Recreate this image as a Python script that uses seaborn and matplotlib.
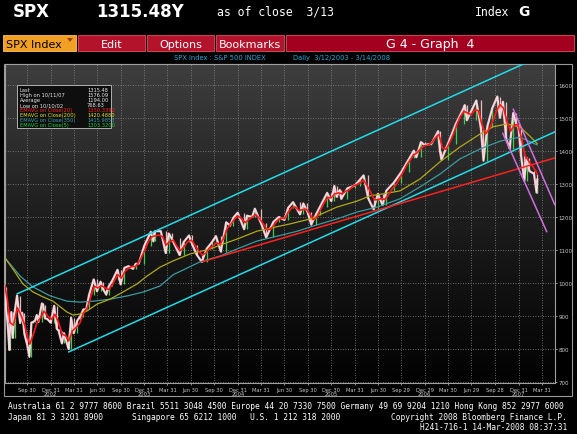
import numpy as np
import pandas as pd
import matplotlib
matplotlib.use("Agg")
import matplotlib.pyplot as plt
import matplotlib.transforms as mtransforms
from matplotlib.colors import LinearSegmentedColormap
from matplotlib.patches import Rectangle, Polygon
import seaborn as sns

# ---------------- data ----------------
price_dates = [
    "2002-07-05", "2002-07-10", "2002-07-16", "2002-07-23", "2002-07-24", "2002-07-31", "2002-08-05",
    "2002-08-14", "2002-08-22", "2002-09-03", "2002-09-11", "2002-09-20", "2002-09-30", "2002-10-09",
    "2002-10-17", "2002-10-24", "2002-10-31", "2002-11-07", "2002-11-13", "2002-11-27", "2002-12-02",
    "2002-12-09", "2002-12-18", "2002-12-31", "2003-01-14", "2003-01-24", "2003-01-31", "2003-02-13",
    "2003-02-21", "2003-03-11", "2003-03-21", "2003-03-31", "2003-04-14", "2003-04-25", "2003-05-08",
    "2003-05-19", "2003-05-30", "2003-06-17", "2003-06-30", "2003-07-14", "2003-07-24", "2003-08-05",
    "2003-08-15", "2003-08-29", "2003-09-18", "2003-09-30", "2003-10-15", "2003-10-31", "2003-11-17",
    "2003-11-28", "2003-12-10", "2003-12-31", "2004-01-26", "2004-02-05", "2004-02-11", "2004-03-05",
    "2004-03-24", "2004-04-05", "2004-04-16", "2004-05-17", "2004-06-02", "2004-06-23", "2004-07-06",
    "2004-07-23", "2004-08-12", "2004-08-31", "2004-09-20", "2004-10-06", "2004-10-25", "2004-11-15",
    "2004-11-30", "2004-12-13", "2004-12-30", "2005-01-24", "2005-02-04", "2005-02-24", "2005-03-07",
    "2005-03-31", "2005-04-20", "2005-05-18", "2005-06-09", "2005-06-30", "2005-07-15", "2005-08-03",
    "2005-08-30", "2005-09-12", "2005-09-28", "2005-10-13", "2005-10-31", "2005-11-16", "2005-12-14",
    "2005-12-30", "2006-01-11", "2006-01-20", "2006-02-01", "2006-02-07", "2006-03-03", "2006-03-31",
    "2006-04-20", "2006-05-05", "2006-05-23", "2006-06-13", "2006-06-30", "2006-07-18", "2006-08-02",
    "2006-08-31", "2006-09-29", "2006-10-31", "2006-11-17", "2006-11-27", "2006-12-15", "2006-12-29",
    "2007-01-25", "2007-02-20", "2007-02-27", "2007-03-05", "2007-03-30", "2007-04-30", "2007-05-31",
    "2007-06-04", "2007-06-12", "2007-07-19", "2007-08-06", "2007-08-16", "2007-08-31", "2007-09-19",
    "2007-10-09", "2007-10-19", "2007-10-31", "2007-11-12", "2007-11-26", "2007-12-10", "2007-12-21",
    "2007-12-31", "2008-01-09", "2008-01-22", "2008-01-31", "2008-02-11", "2008-02-29", "2008-03-10",
    "2008-03-13",
]
price_values = [
    989, 920, 881, 797, 843, 912, 834,
    919, 962, 879, 910, 845, 815, 777,
    880, 882, 886, 903, 882, 938, 934,
    893, 891, 880, 931, 861, 856, 817,
    848, 800, 895, 848, 886, 898, 920,
    920, 964, 1011, 975, 1004, 981, 965,
    990, 1008, 1040, 996, 1046, 1051, 1043,
    1058, 1059, 1112, 1155, 1126, 1157, 1157,
    1091, 1150, 1135, 1085, 1124, 1144, 1116,
    1086, 1064, 1104, 1123, 1142, 1095, 1184,
    1174, 1198, 1213, 1163, 1204, 1200, 1225,
    1181, 1138, 1185, 1200, 1191, 1228, 1245,
    1208, 1241, 1216, 1177, 1207, 1231, 1273,
    1248, 1294, 1261, 1282, 1255, 1287, 1295,
    1312, 1326, 1257, 1223, 1270, 1236, 1280,
    1304, 1336, 1378, 1401, 1381, 1427, 1418,
    1422, 1460, 1400, 1374, 1421, 1482, 1531,
    1539, 1493, 1553, 1467, 1371, 1474, 1529,
    1565, 1501, 1549, 1439, 1407, 1515, 1484,
    1468, 1390, 1310, 1379, 1339, 1331, 1274,
    1315,
]

ema20_dates = [
    "2002-07-05", "2002-07-15", "2002-07-26", "2002-08-08", "2002-08-23", "2002-09-05", "2002-09-20",
    "2002-10-04", "2002-10-11", "2002-10-25", "2002-11-08", "2002-11-22", "2002-12-05", "2002-12-20",
    "2003-01-03", "2003-01-17", "2003-01-31", "2003-02-14", "2003-02-28", "2003-03-12", "2003-03-26",
    "2003-04-09", "2003-04-25", "2003-05-09", "2003-05-23", "2003-06-06", "2003-06-20", "2003-07-03",
    "2003-07-18", "2003-08-01", "2003-08-15", "2003-08-29", "2003-09-19", "2003-10-03", "2003-10-17",
    "2003-10-31", "2003-11-14", "2003-11-28", "2003-12-12", "2003-12-31", "2004-01-16", "2004-01-30",
    "2004-02-13", "2004-02-27", "2004-03-12", "2004-03-26", "2004-04-08", "2004-04-23", "2004-05-07",
    "2004-05-21", "2004-06-04", "2004-06-18", "2004-07-02", "2004-07-16", "2004-07-30", "2004-08-13",
    "2004-08-27", "2004-09-10", "2004-09-24", "2004-10-08", "2004-10-22", "2004-11-05", "2004-11-19",
    "2004-12-03", "2004-12-17", "2004-12-31", "2005-01-14", "2005-01-28", "2005-02-11", "2005-02-25",
    "2005-03-11", "2005-03-25", "2005-04-08", "2005-04-22", "2005-05-06", "2005-05-20", "2005-06-03",
    "2005-06-17", "2005-07-01", "2005-07-15", "2005-07-29", "2005-08-12", "2005-08-26", "2005-09-09",
    "2005-09-23", "2005-10-07", "2005-10-21", "2005-11-04", "2005-11-18", "2005-12-02", "2005-12-16",
    "2005-12-30", "2006-01-13", "2006-01-27", "2006-02-10", "2006-02-24", "2006-03-10", "2006-03-24",
    "2006-04-07", "2006-04-21", "2006-05-05", "2006-05-19", "2006-06-02", "2006-06-16", "2006-06-30",
    "2006-07-14", "2006-07-28", "2006-08-11", "2006-08-25", "2006-09-08", "2006-09-22", "2006-10-06",
    "2006-10-20", "2006-11-03", "2006-11-17", "2006-12-01", "2006-12-15", "2006-12-29", "2007-01-12",
    "2007-01-26", "2007-02-09", "2007-02-23", "2007-03-09", "2007-03-23", "2007-04-06", "2007-04-20",
    "2007-05-04", "2007-05-18", "2007-06-01", "2007-06-15", "2007-06-29", "2007-07-13", "2007-07-27",
    "2007-08-10", "2007-08-24", "2007-09-07", "2007-09-21", "2007-10-05", "2007-10-19", "2007-11-02",
    "2007-11-16", "2007-11-30", "2007-12-14", "2007-12-28", "2008-01-11", "2008-01-25", "2008-02-08",
    "2008-02-22", "2008-03-07", "2008-03-13",
]
ema20_values = [
    995, 950, 880, 872, 925, 905, 875,
    830, 815, 845, 880, 895, 915, 900,
    890, 905, 880, 845, 840, 825, 855,
    865, 880, 910, 925, 960, 990, 985,
    992, 985, 980, 995, 1025, 1015, 1035,
    1045, 1050, 1050, 1065, 1095, 1125, 1140,
    1143, 1145, 1140, 1115, 1125, 1130, 1110,
    1098, 1110, 1125, 1130, 1115, 1098, 1085,
    1090, 1105, 1112, 1122, 1117, 1135, 1165,
    1178, 1193, 1203, 1195, 1183, 1192, 1200,
    1207, 1195, 1180, 1163, 1162, 1175, 1189,
    1197, 1195, 1215, 1228, 1230, 1220, 1222,
    1224, 1210, 1192, 1200, 1222, 1243, 1259,
    1258, 1270, 1273, 1270, 1278, 1282, 1293,
    1298, 1303, 1312, 1295, 1275, 1252, 1252,
    1256, 1253, 1268, 1286, 1297, 1315, 1336,
    1357, 1373, 1388, 1395, 1408, 1416, 1418,
    1425, 1440, 1450, 1410, 1405, 1425, 1450,
    1480, 1505, 1520, 1515, 1510, 1525, 1522,
    1480, 1452, 1465, 1490, 1520, 1540, 1530,
    1488, 1460, 1478, 1480, 1440, 1385, 1370,
    1355, 1340, 1330,
]

ema200_dates = [
    "2002-07-06", "2002-08-06", "2002-09-14", "2002-10-23", "2002-12-01", "2003-01-09", "2003-03-05",
    "2003-03-28", "2003-04-25", "2003-05-22", "2003-06-30", "2003-08-20", "2003-10-10", "2003-12-03",
    "2004-01-11", "2004-03-02", "2004-04-22", "2004-06-27", "2004-09-13", "2004-11-03", "2004-12-27",
    "2005-03-15", "2005-05-05", "2005-07-22", "2005-10-08", "2005-11-04", "2006-01-21", "2006-04-09",
    "2006-05-30", "2006-07-20", "2006-09-24", "2006-12-11", "2007-02-27", "2007-05-16", "2007-08-02",
    "2007-09-22", "2007-11-15", "2008-01-05", "2008-02-13", "2008-03-13",
]
ema200_values = [
    1076, 1042, 997, 973, 958, 945, 912,
    903, 906, 915, 936, 951, 973, 997,
    1021, 1048, 1067, 1088, 1103, 1118, 1133,
    1157, 1166, 1179, 1194, 1203, 1230, 1248,
    1264, 1270, 1279, 1315, 1367, 1412, 1451,
    1473, 1482, 1473, 1445, 1422,
]

ema350_dates = [
    "2002-07-06", "2002-09-03", "2002-10-23", "2002-12-29", "2003-03-05", "2003-04-25", "2003-06-16",
    "2003-08-20", "2003-10-27", "2003-12-29", "2004-03-02", "2004-04-22", "2004-08-05", "2004-10-23",
    "2004-12-27", "2005-03-15", "2005-06-02", "2005-08-20", "2005-10-22", "2006-01-21", "2006-04-09",
    "2006-06-27", "2006-09-24", "2006-12-11", "2007-02-27", "2007-05-16", "2007-08-02", "2007-10-21",
    "2008-01-05", "2008-03-13",
]
ema350_values = [
    1076, 1021, 988, 961, 945, 942, 945,
    951, 961, 973, 991, 1025, 1064, 1082,
    1103, 1127, 1142, 1157, 1173, 1194, 1215,
    1230, 1255, 1291, 1330, 1376, 1406, 1430,
    1442, 1418,
]

# hand-drawn trend lines (start, end)
cyan_upper_dates = ["2002-08-22", "2008-01-20"]
cyan_upper_values = [967, 1664]
cyan_lower_dates = ["2003-03-11", "2008-05-21"]
cyan_lower_values = [791, 1458]
red_trend_dates = ["2004-08-12", "2008-05-21"]
red_trend_values = [1064, 1379]
magenta_a_dates = ["2007-12-10", "2008-05-21"]
magenta_a_values = [1527, 1236]
magenta_b_dates = ["2007-10-30", "2008-04-19"]
magenta_b_values = [1454, 1155]

quarter_dates = [
    "2002-09-30", "2002-12-31", "2003-03-31", "2003-06-30", "2003-09-30", "2003-12-31", "2004-03-31",
    "2004-06-30", "2004-09-30", "2004-12-31", "2005-03-31", "2005-06-30", "2005-09-30", "2005-12-30",
    "2006-03-31", "2006-06-30", "2006-09-29", "2006-12-29", "2007-03-30", "2007-06-29", "2007-09-28",
    "2007-12-31", "2008-03-31",
]
quarter_labels = [
    "Sep 30", "Dec 31", "Mar 31", "Jun 30", "Sep 30", "Dec 31", "Mar 31",
    "Jun 30", "Sep 30", "Dec 31", "Mar 31", "Jun 30", "Sep 30", "Dec 30",
    "Mar 31", "Jun 30", "Sep 29", "Dec 29", "Mar 30", "Jun 29", "Sep 28",
    "Dec 31", "Mar 31",
]
year_dates = ["2002-12-31", "2003-12-31", "2004-12-31", "2005-12-30", "2006-12-29", "2007-12-31"]
year_labels = ["2002", "2003", "2004", "2005", "2006", "2007"]
y_ticks = [700, 800, 900, 1000, 1100, 1200, 1300, 1400, 1500, 1600]

legend_names = ["Last", "High on 10/11/07", "Average", "Low on 10/10/02",
                "EMAVG on Close(20)", "EMAVG on Close(200)", "EMAVG on Close(350)", "EMAVG on Close(5)"]
legend_values = ["1315.48", "1576.09", "1194.00", "768.63",
                 "1330.3392", "1420.4880", "1415.9853", "1303.3200"]
legend_colors = ["#e8e8e8", "#e8e8e8", "#e8e8e8", "#e8e8e8",
                 "#ff2020", "#e0e020", "#3aa0a8", "#20d040"]

# ---------------- figure ----------------
sns.set_theme(style="dark")
plt.rcParams["font.family"] = ["DejaVu Sans"]

W, H = 577, 435
fig = plt.figure(figsize=(W / 100, H / 100), dpi=100, facecolor="black")


def fx(x):
    return x / W


def fy(y):
    return 1 - y / H


# header
fig.text(fx(13), fy(12), "SPX", color="white", fontsize=12, fontweight="bold", va="center", ha="left")
fig.text(fx(96), fy(12), "1315.48Y", color="white", fontsize=12, fontweight="bold", va="center", ha="left")
fig.text(fx(217), fy(12), "as of close  3/13", color="white", fontsize=8.3, va="center", ha="left",
         family="DejaVu Sans Mono")
fig.text(fx(475), fy(12), "Index", color="white", fontsize=8.3, va="center", ha="left", family="DejaVu Sans Mono")
fig.text(fx(518), fy(12), "G", color="white", fontsize=10, fontweight="bold", va="center", ha="left")

# menu bar
bar_top, bar_bot = 36, 52
menu = [(3, 76, "SPX Index", "#f2a024", "black", "left"),
        (78, 145, "Edit", "#b3142c", "white", "center"),
        (147, 214, "Options", "#b3142c", "white", "center"),
        (216, 284, "Bookmarks", "#b3142c", "white", "center"),
        (286, 574, "G 4 - Graph  4", "#a3001f", "white", "center")]
for x0, x1, label, fc, tc, ha in menu:
    fig.patches.append(Rectangle((fx(x0), fy(bar_bot)), fx(x1 - x0), (bar_bot - bar_top) / H,
                                 transform=fig.transFigure, facecolor=fc,
                                 edgecolor="#e05060" if fc != "#f2a024" else "#ffc060", linewidth=0.6))
    tx = x0 + 3 if ha == "left" else (x0 + x1) / 2
    fs = 9 if label.startswith("G 4") else 8
    fig.text(fx(tx), fy((bar_top + bar_bot) / 2 + 0.5), label, color=tc, fontsize=fs, va="center", ha=ha)
fig.patches.append(Polygon([[fx(67), fy(39)], [fx(73), fy(39)], [fx(70), fy(43)]], closed=True,
                           transform=fig.transFigure, facecolor="#a04000", edgecolor="none"))

# subtitle
fig.text(fx(174), fy(58.5), "SPX Index : S&P 500 INDEX", color="#2aa8d8", fontsize=4.9, va="center", ha="left")
fig.text(fx(293), fy(58.5), "Daily  3/12/2003 - 3/14/2008", color="#2aa8d8", fontsize=4.9, va="center", ha="left")

# plot axes
ax = fig.add_axes([fx(5), fy(384), fx(550), (384 - 65) / H])
ax.set_zorder(2)
ax.set_facecolor("black")
grad = np.linspace(0, 1, 256).reshape(-1, 1)
cmap = LinearSegmentedColormap.from_list("bg", ["#3e3e3e", "#1c1c1c", "#020202"])
ax.imshow(grad, cmap=cmap, extent=[0, 1, 0, 1], transform=ax.transAxes, aspect="auto", zorder=0,
          interpolation="bilinear")

pdates = pd.to_datetime(price_dates)
pvals = np.array(price_values, dtype=float)
price_df = pd.DataFrame({"date": pdates, "close": pvals})

# price bars texture
for i in range(1, len(pvals)):
    lo, hi = min(pvals[i - 1], pvals[i]), max(pvals[i - 1], pvals[i])
    col = "#3ad24a" if pvals[i] > pvals[i - 1] else "#f2b6c0"
    ax.vlines(pdates[i], lo, hi, color=col, linewidth=0.9, zorder=3)
sns.lineplot(data=price_df, x="date", y="close", ax=ax, color="#f0c4cc", linewidth=1.6, zorder=4)
sns.lineplot(x=pdates, y=pvals, ax=ax, color="#ffffff", linewidth=0.4, alpha=0.7, zorder=4)

# moving averages
sns.lineplot(x=pd.to_datetime(ema350_dates), y=ema350_values, ax=ax, color="#3a9aa0", linewidth=0.9, zorder=5)
sns.lineplot(x=pd.to_datetime(ema200_dates), y=ema200_values, ax=ax, color="#b0a818", linewidth=0.9, zorder=5)
sns.lineplot(x=pd.to_datetime(ema20_dates), y=ema20_values, ax=ax, color="#ff1818", linewidth=1.2, zorder=6)

# trend lines
for d, v, c in [(cyan_upper_dates, cyan_upper_values, "#22dcec"),
                (cyan_lower_dates, cyan_lower_values, "#22dcec"),
                (red_trend_dates, red_trend_values, "#ff2020"),
                (magenta_a_dates, magenta_a_values, "#d070e0"),
                (magenta_b_dates, magenta_b_values, "#d070e0")]:
    sns.lineplot(x=pd.to_datetime(d), y=v, ax=ax, color=c, linewidth=1.1, zorder=7)

ax.set_xlim(pd.Timestamp("2002-07-06"), pd.Timestamp("2008-05-21"))
ax.set_ylim(697, 1663.5)
ax.set_xlabel("")
ax.set_ylabel("")

# grid
qd = pd.to_datetime(quarter_dates)
for d in qd:
    ax.axvline(d, color="#8a8a8a", linestyle=(0, (1, 2)), linewidth=0.6, zorder=1)
for yv in y_ticks:
    ax.axhline(yv, color="#8a8a8a", linestyle=(0, (1, 2)), linewidth=0.6, zorder=1)
ax.grid(False)

# axes ticks
ax.yaxis.tick_right()
ax.set_yticks(y_ticks)
ax.set_yticklabels([str(v) for v in y_ticks])
ax.tick_params(axis="y", colors="#c8c8c8", labelsize=4, length=1.5, pad=1, width=0.5, right=True, left=False)
ax.set_xticks(qd)
ax.set_xticklabels(quarter_labels)
ax.tick_params(axis="x", colors="#c8c8c8", labelsize=3.7, length=1.5, pad=1.5, width=0.5, bottom=True)
trans = mtransforms.blended_transform_factory(ax.transData, ax.transAxes)
for d, lab in zip(pd.to_datetime(year_dates), year_labels):
    ax.text(d, -0.032, lab, transform=trans, color="#c8c8c8", fontsize=3.7, ha="center", va="center")
for s in ax.spines.values():
    s.set_color("#a0a0a0")
    s.set_linewidth(0.8)

# outer frame (edge only)
frame = Rectangle((fx(4), fy(397)), fx(568), (397 - 65) / H, transform=fig.transFigure,
                  facecolor="none", edgecolor="#9a9a9a", linewidth=0.8, zorder=1)
fig.patches.append(frame)

# stats legend box (inside plot, drawn in figure pixel space)
lx0, lx1, ly0, ly1 = 17, 111, 86.5, 129
box = Rectangle((fx(lx0), fy(ly1)), fx(lx1 - lx0), (ly1 - ly0) / H, transform=fig.transFigure,
                facecolor="#0e0e0e", edgecolor="#b0b0b0", linewidth=0.7, zorder=20)
ax.add_artist(box)
box.set_clip_on(False)
for i, (n, v, c) in enumerate(zip(legend_names, legend_values, legend_colors)):
    yy = 90.5 + i * 5.05
    ax.text(fx(19.5), fy(yy), n, color=c, fontsize=3.7, va="center", ha="left", zorder=21,
            transform=fig.transFigure)
    ax.text(fx(87), fy(yy), v, color=c, fontsize=3.7, va="center", ha="left", zorder=21,
            transform=fig.transFigure)

# footer
mono = "DejaVu Sans Mono"
fig.text(fx(8), fy(407), "Australia 61 2 9777 8600 Brazil 5511 3048 4500 Europe 44 20 7330 7500 "
         "Germany 49 69 9204 1210 Hong Kong 852 2977 6000", color="white", fontsize=5.7, family=mono,
         va="center", ha="left")
fig.text(fx(8), fy(417.5), "Japan 81 3 3201 8900", color="white", fontsize=5.7, family=mono, va="center", ha="left")
fig.text(fx(132), fy(417.5), "Singapore 65 6212 1000", color="white", fontsize=5.7, family=mono,
         va="center", ha="left")
fig.text(fx(250), fy(417.5), "U.S. 1 212 318 2000", color="white", fontsize=5.7, family=mono,
         va="center", ha="left")
fig.text(fx(567), fy(417.5), "Copyright 2008 Bloomberg Finance L.P.", color="white", fontsize=5.7, family=mono,
         va="center", ha="right")
fig.text(fx(567), fy(428), "H241-716-1 14-Mar-2008 08:37:31", color="white", fontsize=5.7, family=mono,
         va="center", ha="right")

fig.savefig("out.png", dpi=100, facecolor="black")
